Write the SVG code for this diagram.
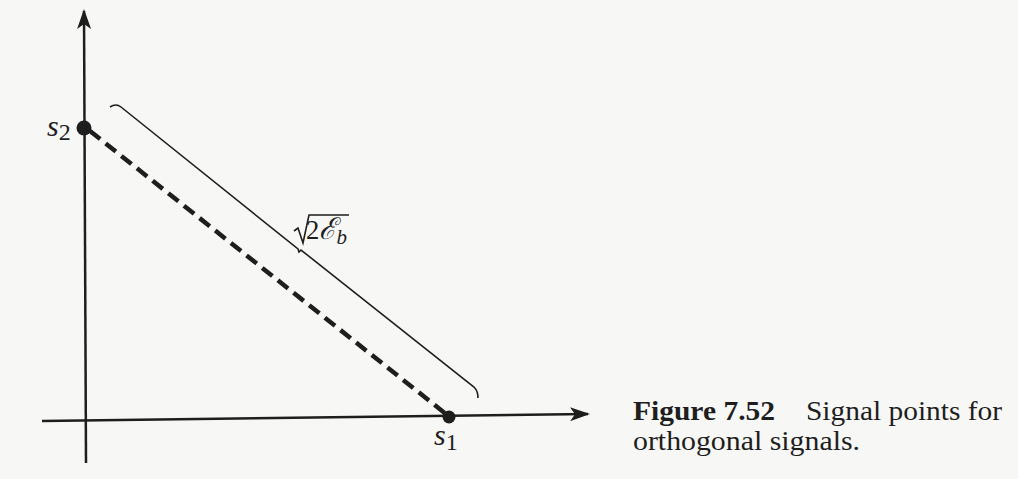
<svg xmlns="http://www.w3.org/2000/svg" width="1018" height="479" viewBox="0 0 1018 479">
<defs>
<style>
.ax{stroke:#1e1e1e;stroke-width:2.5;fill:none}
.dash{stroke:#1e1e1e;stroke-width:4.5;stroke-dasharray:13,7;fill:none}
.br{stroke:#1e1e1e;stroke-width:1.6;fill:none}
.dot{fill:#1e1e1e}
.m{font-family:"Liberation Serif","DejaVu Serif",serif;font-style:italic;fill:#1e1e1e}
.sub{font-family:"Liberation Serif","DejaVu Serif",serif;fill:#1e1e1e}
.cap{font-family:"Liberation Serif","Times New Roman",serif;font-size:28px;fill:#1e1e1e}
</style>
<marker id="arr" viewBox="0 0 20 14" refX="18" refY="7" markerWidth="20" markerHeight="14" markerUnits="userSpaceOnUse" orient="auto">
<path d="M0,0 L20,7 L0,14 L5,7 Z" fill="#1e1e1e"/>
</marker>
</defs>
<rect width="1018" height="479" fill="#f7f7f5"/>
<g id="connectors">
<line id="y-axis" class="ax" x1="86" y1="463" x2="84" y2="11" marker-end="url(#arr)"/>
<line id="x-axis" class="ax" x1="42" y1="421" x2="588" y2="414" marker-end="url(#arr)"/>
<line id="distance" class="dash" x1="90" y1="131" x2="446" y2="414"/>
<path id="bracket" class="br" d="M110,107 Q116,103 121,107 L298,249 L299,252 L301,250 L474,387 Q478,391 478,398"/>
</g>
<g id="s2">
<circle class="dot" cx="84" cy="128" r="7.5"/>
<text class="m" x="47" y="136" font-size="30">s<tspan class="sub" font-style="normal" font-size="24" dy="4">2</tspan></text>
</g>
<g id="s1">
<circle class="dot" cx="449" cy="417" r="6.5"/>
<text class="m" x="434" y="445" font-size="30">s<tspan class="sub" font-style="normal" font-size="24" dy="5">1</tspan></text>
</g>
<g id="label">
<path class="br" d="M294,231 L298,228 L303,243 L309,215 L349,215" stroke-width="1.5"/>
<text class="sub" x="306" y="239" font-size="28" textLength="41" lengthAdjust="spacingAndGlyphs">2<tspan class="m" font-size="30">ℰ</tspan><tspan class="m" font-size="22" dy="5">b</tspan></text>
</g>
<g id="caption">
<text class="cap" x="633" y="420" font-weight="bold" textLength="142" lengthAdjust="spacingAndGlyphs">Figure 7.52</text>
<text class="cap" x="806" y="420" textLength="196" lengthAdjust="spacingAndGlyphs">Signal points for</text>
<text class="cap" x="633" y="450" textLength="227" lengthAdjust="spacingAndGlyphs">orthogonal signals.</text>
</g>
</svg>
